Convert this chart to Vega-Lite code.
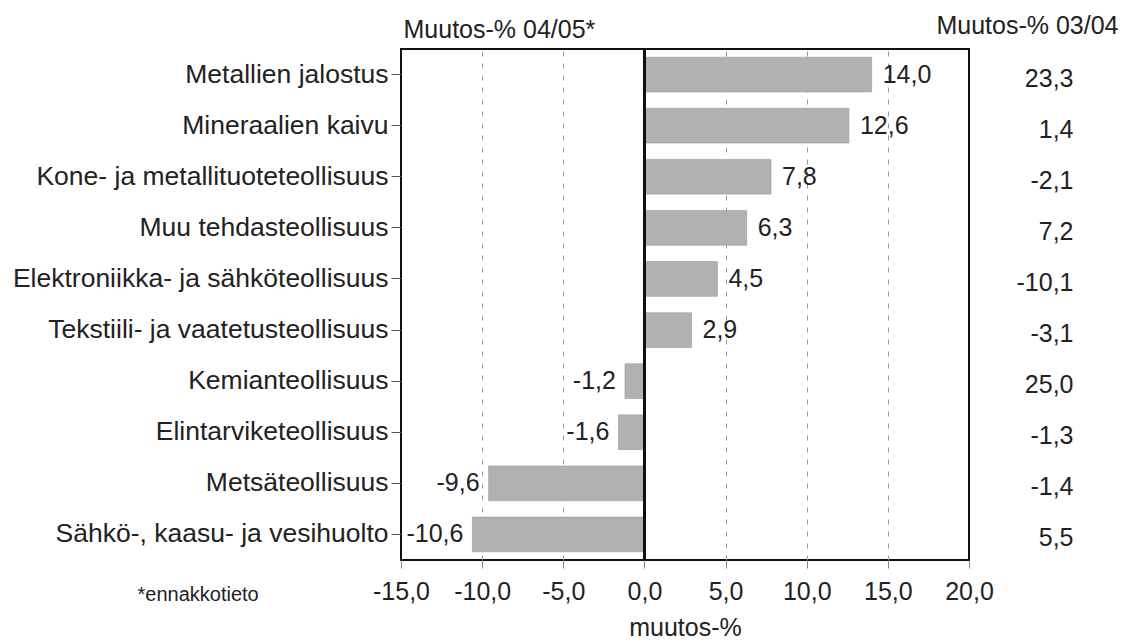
{
  "$schema": "https://vega.github.io/schema/vega-lite/v6.json",
  "width": 568,
  "height": 511,
  "autosize": {"type": "none"},
  "padding": {"left": 401, "top": 49, "right": 160, "bottom": 82},
  "background": "white",
  "config": {
    "font": "Liberation Sans",
    "view": {"stroke": "#111", "strokeWidth": 2},
    "locale": {"number": {"decimal": ",", "thousands": " ", "grouping": [3], "currency": ["", " €"], "minus": "-"}},
    "axis": {"labelColor": "#222", "titleColor": "#222", "labelFont": "Liberation Sans", "titleFont": "Liberation Sans"}
  },
  "data": {
    "values": [
      {"toimiala": "Metallien jalostus", "m0405": 14.0, "m0304": 23.3},
      {"toimiala": "Mineraalien kaivu", "m0405": 12.6, "m0304": 1.4},
      {"toimiala": "Kone- ja metallituoteteollisuus", "m0405": 7.8, "m0304": -2.1},
      {"toimiala": "Muu tehdasteollisuus", "m0405": 6.3, "m0304": 7.2},
      {"toimiala": "Elektroniikka- ja sähköteollisuus", "m0405": 4.5, "m0304": -10.1},
      {"toimiala": "Tekstiili- ja vaatetusteollisuus", "m0405": 2.9, "m0304": -3.1},
      {"toimiala": "Kemianteollisuus", "m0405": -1.2, "m0304": 25.0},
      {"toimiala": "Elintarviketeollisuus", "m0405": -1.6, "m0304": -1.3},
      {"toimiala": "Metsäteollisuus", "m0405": -9.6, "m0304": -1.4},
      {"toimiala": "Sähkö-, kaasu- ja vesihuolto", "m0405": -10.6, "m0304": 5.5}
    ]
  },
  "layer": [
    {
      "layer": [
        {
          "mark": {"type": "bar", "color": "#b1b1b1", "stroke": "#9a9a9a", "strokeWidth": 0.6},
          "encoding": {
            "y": {
              "field": "toimiala",
              "type": "nominal",
              "sort": null,
              "scale": {"paddingInner": 0.32, "paddingOuter": 0.16},
              "axis": {
                "domain": false,
                "tickSize": 10,
                "tickColor": "#555",
                "labelPadding": 3,
                "labelFontSize": 26.5,
                "labelLimit": 500,
                "title": "*ennakkotieto",
                "titleFontSize": 20,
                "titleFontWeight": "normal",
                "titleAngle": 0,
                "titleAlign": "left",
                "titleBaseline": "middle",
                "titleX": -264,
                "titleY": 545
              }
            },
            "x": {
              "field": "m0405",
              "type": "quantitative",
              "scale": {"domain": [-15, 20], "nice": false, "zero": false},
              "axis": {
                "values": [-15, -10, -5, 0, 5, 10, 15, 20],
                "format": ".1f",
                "domain": false,
                "grid": true,
                "gridColor": "#999",
                "gridDash": [5, 7],
                "gridWidth": 1,
                "gridOpacity": {"condition": {"test": "datum.value == -15 || datum.value == 20 || datum.value == 0", "value": 0}, "value": 1},
                "tickSize": 8,
                "tickColor": "#888",
                "labelPadding": 11,
                "labelFontSize": 25,
                "labelFlush": false,
                "title": "muutos-%",
                "titleFontSize": 25,
                "titleFontWeight": "normal",
                "titlePadding": 11
              }
            }
          }
        },
        {
          "mark": {"type": "rule", "color": "#111", "strokeWidth": 2},
          "encoding": {
            "x": {
              "datum": 0,
              "axis": {
                "orient": "top",
                "domain": false,
                "ticks": false,
                "labels": false,
                "grid": false,
                "title": "Muutos-% 04/05*",
                "titleFontSize": 25,
                "titleFontWeight": "normal",
                "titleAlign": "left",
                "titleBaseline": "alphabetic",
                "titleX": 2,
                "titleY": -12
              }
            }
          }
        },
        {
          "transform": [{"filter": "datum.m0405 >= 0"}],
          "mark": {"type": "text", "align": "left", "baseline": "middle", "dx": 11, "fontSize": 25, "color": "#222"},
          "encoding": {
            "y": {"field": "toimiala", "type": "nominal", "sort": null},
            "x": {"field": "m0405", "type": "quantitative", "axis": null},
            "text": {"field": "m0405", "type": "quantitative", "format": ".1f"}
          }
        },
        {
          "transform": [{"filter": "datum.m0405 < 0"}],
          "mark": {"type": "text", "align": "right", "baseline": "middle", "dx": -9, "fontSize": 25, "color": "#222"},
          "encoding": {
            "y": {"field": "toimiala", "type": "nominal", "sort": null},
            "x": {"field": "m0405", "type": "quantitative", "axis": null},
            "text": {"field": "m0405", "type": "quantitative", "format": ".1f"}
          }
        }
      ],
      "resolve": {"axis": {"x": "independent"}}
    },
    {
      "mark": {"type": "text", "text": "", "opacity": 0},
      "encoding": {
        "y": {
          "field": "m0304",
          "type": "ordinal",
          "sort": null,
          "scale": {"type": "band", "paddingInner": 0.32, "paddingOuter": 0.16},
          "axis": {
            "orient": "right",
            "domain": false,
            "ticks": false,
            "labelAlign": "right",
            "labelBaseline": "middle",
            "labelPadding": 104,
            "labelOffset": 4,
            "labelFontSize": 25,
            "labelExpr": "replace(replace(format(datum.value, '.1f'), '.', ','), '−', '-')",
            "title": "Muutos-% 03/04",
            "titleFontSize": 25,
            "titleFontWeight": "normal",
            "titleAngle": 0,
            "titleAlign": "right",
            "titleBaseline": "alphabetic",
            "titleX": 149,
            "titleY": -16
          }
        }
      }
    }
  ],
  "resolve": {"scale": {"y": "independent"}, "axis": {"y": "independent"}}
}
